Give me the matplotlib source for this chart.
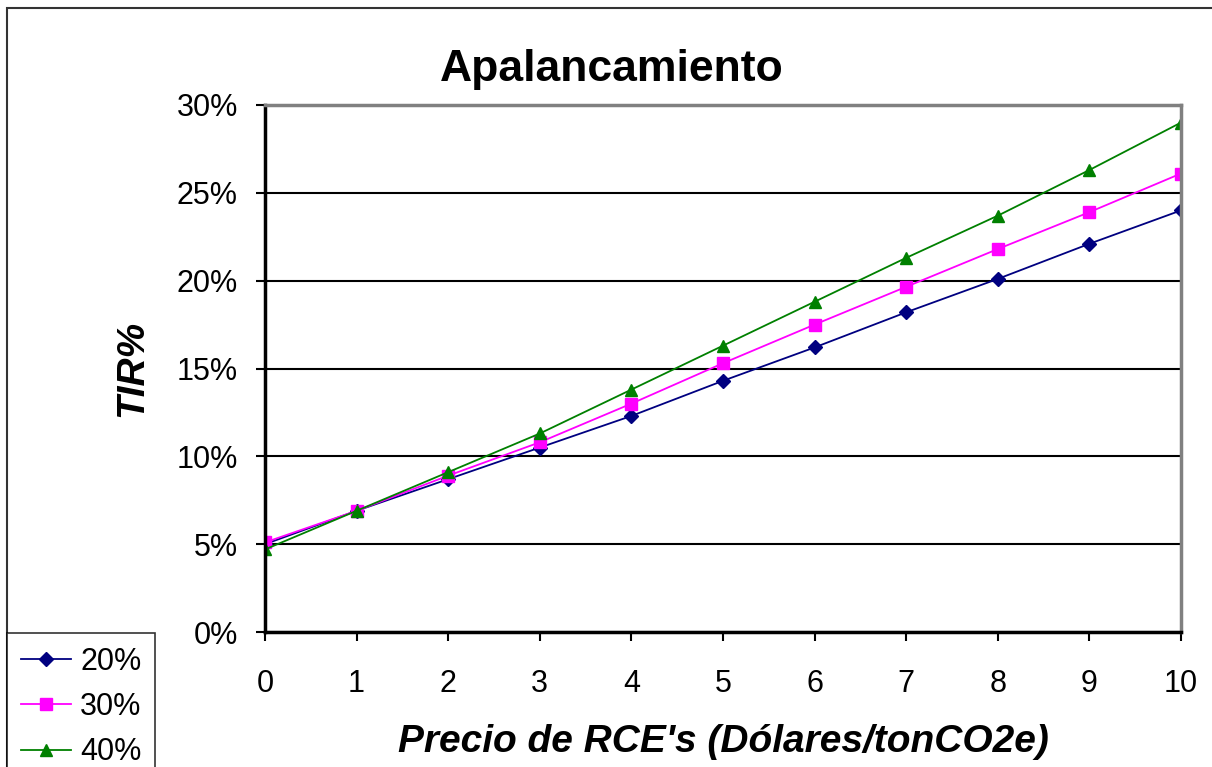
import matplotlib.pyplot as plt
from matplotlib.patches import Rectangle
from matplotlib.ticker import MultipleLocator, PercentFormatter

plt.rcParams['font.family'] = ['Liberation Sans', 'DejaVu Sans']

# precio RCE (x) y TIR% para cada nivel de apalancamiento
precio = [0, 1, 2, 3, 4, 5, 6, 7, 8, 9, 10]
tir_20 = [5.0, 6.9, 8.7, 10.5, 12.3, 14.3, 16.2, 18.2, 20.1, 22.1, 24.0]
tir_30 = [5.1, 6.9, 8.9, 10.8, 13.0, 15.3, 17.5, 19.65, 21.8, 23.9, 26.1]
tir_40 = [4.7, 6.9, 9.1, 11.3, 13.8, 16.3, 18.8, 21.3, 23.7, 26.3, 29.0]
etiquetas = ["20%", "30%", "40%"]

W, H = 1212, 767
fig = plt.figure(figsize=(W / 100, H / 100), dpi=100)
ax = fig.add_axes([265 / W, 1 - 632 / H, (1181 - 265) / W, (632 - 105) / H])

# borde del area del grafico (Excel)
fig.patches.append(Rectangle((7 / W, -0.01), 1.1, 1 - 8 / H + 0.01, transform=fig.transFigure,
                             fill=False, edgecolor='#333333', lw=1.5))

ax.plot(precio, tir_20, color='#000080', marker='D', markersize=7, lw=1.3, label=etiquetas[0])
ax.plot(precio, tir_30, color='#ff00ff', marker='s', markersize=8, lw=1.3, label=etiquetas[1])
ax.plot(precio, tir_40, color='#008000', marker='^', markersize=9, lw=1.3, label=etiquetas[2])

ax.set_xlim(0, 10)
ax.set_ylim(0, 30)
ax.xaxis.set_major_locator(MultipleLocator(1))
ax.yaxis.set_major_locator(MultipleLocator(5))
ax.yaxis.set_major_formatter(PercentFormatter(decimals=0))
ax.grid(axis='y', color='black', lw=1.5)
ax.set_axisbelow(True)

ax.spines['left'].set_color('black')
ax.spines['left'].set_linewidth(2.5)
ax.spines['bottom'].set_color('black')
ax.spines['bottom'].set_linewidth(2.5)
ax.spines['top'].set_color('#808080')
ax.spines['top'].set_linewidth(2.5)
ax.spines['right'].set_color('#808080')
ax.spines['right'].set_linewidth(2.5)
ax.tick_params(axis='both', direction='out', length=6.5, width=1.5, labelsize=22)
ax.tick_params(axis='y', pad=13)
ax.tick_params(axis='x', pad=20)

fig.text(612 / W, 1 - 81 / H, "Apalancamiento", fontsize=32, fontweight='bold',
         ha='center', va='baseline')
ax.set_xlabel("Precio de RCE's (Dólares/tonCO2e)", fontsize=28, fontweight='bold',
              style='italic', labelpad=18)
ax.set_ylabel("TIR%", fontsize=28, fontweight='bold', style='italic', labelpad=19)

leg = fig.legend(loc='upper left', bbox_to_anchor=(7 / W, 1 - 633 / H), fontsize=22,
                 frameon=True, fancybox=False, edgecolor='black', handlelength=1.65,
                 handletextpad=0.3, borderpad=0.45, labelspacing=0.5, borderaxespad=0)
leg.get_frame().set_linewidth(1.2)

fig.savefig("out.png", dpi=100)
